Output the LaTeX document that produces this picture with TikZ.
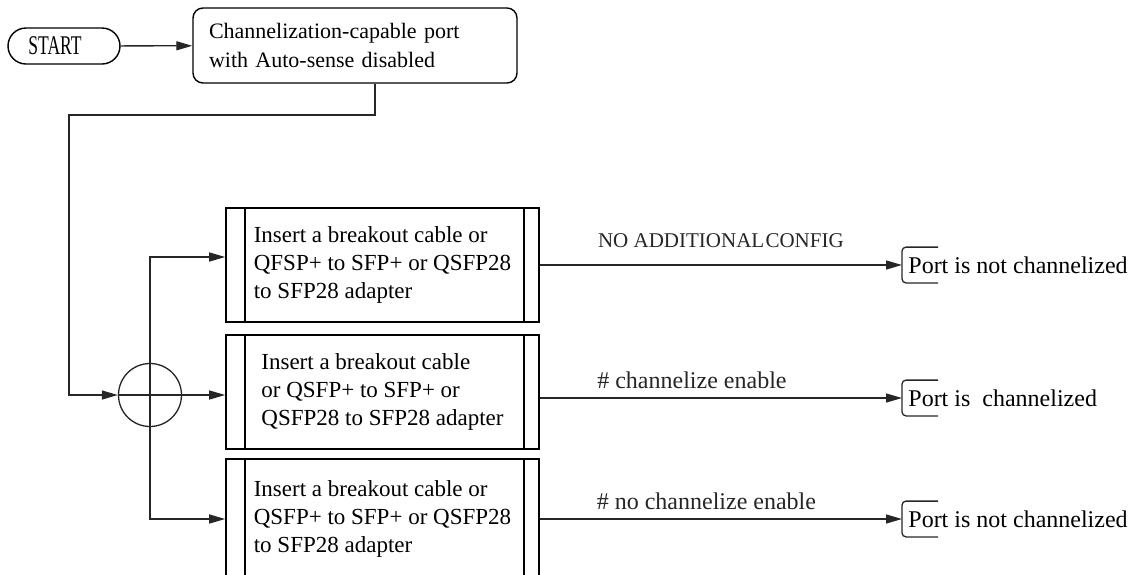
\documentclass[tikz,border=0pt]{standalone}
\usepackage{fontspec}
\usepackage{graphicx}
\setmainfont{Liberation Serif}
\usetikzlibrary{arrows.meta}

\newcommand{\bodyfont}{\fontsize{11.5}{14}\selectfont}
\newcommand{\termfont}{\fontsize{12}{14}\selectfont}
\newcommand{\topfont}{\fontsize{11}{14.5}\selectfont}
\newcommand{\labfont}{\fontsize{12}{13}\selectfont}

\tikzset{
	line/.style={line width=0.65pt, black!85},
	arr/.style={line, -{Triangle[length=8pt, width=4.5pt]}},
	startbox/.style={draw, line width=0.7pt, minimum width=56pt, minimum height=18pt, rounded corners=9pt, font=\topfont},
	topbox/.style={draw, line width=0.7pt, minimum width=162pt, minimum height=37.5pt, rounded corners=5pt, text width=146pt, align=left, font=\topfont},
	subbox/.style={draw, line width=0.8pt, minimum width=156.5pt, minimum height=57pt, align=left, font=\bodyfont,
		path picture={\draw[line width=0.8pt] ([xshift=9.5pt]path picture bounding box.north west) -- ([xshift=9.5pt]path picture bounding box.south west)
			([xshift=-7.5pt]path picture bounding box.north east) -- ([xshift=-7.5pt]path picture bounding box.south east);}},
	termbox/.style={anchor=west, minimum height=17.5pt, inner xsep=3pt, font=\termfont},
	mergept/.style={draw, line, circle, minimum size=31.5pt, inner sep=0pt},
}

\begin{document}
\begin{tikzpicture}[x=0.5pt, y=-0.5pt]
	\useasboundingbox (0,0) rectangle (1140,574);
	\clip (0,0) rectangle (1140,574);

	\node[startbox] (start) at (64,46) {\scalebox{0.65}[1]{\fontsize{13.5}{14}\selectfont START}\hspace*{9pt}};
	\node[topbox] (top) at (355,45.5) {Channelization-capable port\\with Auto-sense disabled};

	\node[mergept] (merge) at (150,395) {};
	\coordinate (elbow) at (69,115);

	\node[subbox] (b1) at (382.5,265) {Insert a breakout cable or\\QFSP+ to SFP+ or QSFP28\\to SFP28 adapter};
	\node[subbox] (b2) at (382.5,392) {Insert a breakout cable\\or QSFP+ to SFP+ or\\QSFP28 to SFP28 adapter};
	\node[subbox, minimum height=60pt] (b3) at (382.5,519) {Insert a breakout cable or\\QSFP+ to SFP+ or QSFP28\\to SFP28 adapter};

	\node[termbox] (e1) at (902,265) {Port is not channelized};
	\node[termbox] (e2) at (902,398) {Port is\ \ channelized};
	\node[termbox] (e3) at (902,519) {Port is not channelized};

	\foreach \e in {e1,e2,e3}
		\draw[line, rounded corners=2pt] ([xshift=18pt]\e.north west) -- (\e.north west) -- (\e.south west) -- ([xshift=18pt]\e.south west);

	\draw[arr] (start) -- (top);
	\draw[arr] ([xshift=10pt]top.south) |- (elbow) |- (merge.west);

	\draw[arr] (merge.west) -- (merge.west -| b2.west);
	\draw[arr] (merge.center) |- ([yshift=4pt]b1.west);
	\draw[arr] (merge.center) |- (b3.west);

	\draw[arr] (b1.east) -- (e1.west) node[midway, above=5pt, font={\fontsize{10.5}{12}\selectfont}] {NO ADDITIONAL\hspace{-2pt} CONFIG};
	\draw[arr] (b2.east |- e2.west) -- (e2.west) node[pos=0.42, above=1pt, font=\labfont] {\# channelize enable};
	\draw[arr] (b3.east) -- (e3.west) node[pos=0.46, above=1pt, font=\labfont] {\# no channelize enable};
\end{tikzpicture}
\end{document}
